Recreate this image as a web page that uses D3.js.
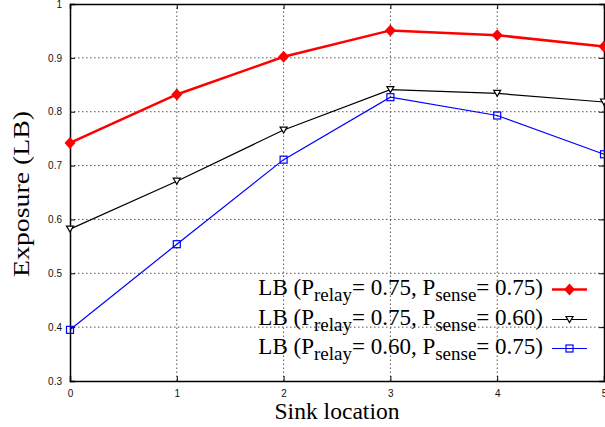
<!DOCTYPE html>
<html><head><meta charset="utf-8">
<script src="https://cdn.jsdelivr.net/npm/d3@7"></script>
<style>body{margin:0;background:#fff}svg{display:block}</style>
</head><body>
<script>
const sinkLocations = [0, 1, 2, 3, 4, 5];
const lbRelay75Sense75 = [0.742, 0.832, 0.902, 0.951, 0.942, 0.921];
const lbRelay75Sense60 = [0.582, 0.671, 0.766, 0.841, 0.834, 0.818];
const lbRelay60Sense75 = [0.395, 0.554, 0.711, 0.827, 0.793, 0.721];
const yTicks = [0.3, 0.4, 0.5, 0.6, 0.7, 0.8, 0.9, 1];
const xTicks = [0, 1, 2, 3, 4, 5];
const seriesLabels = [
  {relay: "0.75", sense: "0.75"},
  {relay: "0.75", sense: "0.60"},
  {relay: "0.60", sense: "0.75"}
];

const W = 605, H = 427;
const m = {left: 70, right: 1, top: 4, bottom: 46};
const svg = d3.select("body").append("svg").attr("width", W).attr("height", H);
const x = d3.scaleLinear().domain([0, 5]).range([m.left, W - m.right]);
const y = d3.scaleLinear().domain([0.3, 1]).range([H - m.bottom, m.top]);

// grid
const grid = svg.append("g");
grid.selectAll("line.gx").data(xTicks.slice(1, -1)).join("line")
  .attr("x1", d => x(d)).attr("x2", d => x(d)).attr("y1", y(0.3)).attr("y2", y(1))
  .attr("stroke", "#555").attr("stroke-width", 1).attr("stroke-dasharray", "1.5,2.5");
grid.selectAll("line.gy").data(yTicks.slice(1, -1)).join("line")
  .attr("x1", x(0)).attr("x2", x(5)).attr("y1", d => y(d)).attr("y2", d => y(d))
  .attr("stroke", "#555").attr("stroke-width", 1).attr("stroke-dasharray", "1.5,2.5");

// axes
const tickFont = "Liberation Sans, Arial, sans-serif";
const ax = svg.append("g").attr("transform", `translate(0,${y(0.3)})`)
  .call(d3.axisBottom(x).tickValues(xTicks).tickFormat(d3.format("d")).tickSize(-5).tickPadding(9));
const axT = svg.append("g").attr("transform", `translate(0,${y(1)})`)
  .call(d3.axisTop(x).tickValues(xTicks).tickFormat("").tickSize(-5));
const ay = svg.append("g").attr("transform", `translate(${x(0)},0)`)
  .call(d3.axisLeft(y).tickValues(yTicks).tickFormat(d => String(d)).tickSize(-5).tickPadding(8));
const ayR = svg.append("g").attr("transform", `translate(${x(5)},0)`)
  .call(d3.axisRight(y).tickValues(yTicks).tickFormat("").tickSize(-5));
[ax, axT, ay, ayR].forEach(g => {
  g.select(".domain").attr("stroke", "#000").attr("stroke-width", 1.5);
  g.selectAll(".tick line").attr("stroke", "#000");
  g.selectAll(".tick text").attr("font-family", tickFont).attr("font-size", 10).attr("fill", "#111");
});

// lines
const line = d3.line().x((d, i) => x(sinkLocations[i])).y(d => y(d));
const series = [
  {data: lbRelay75Sense75, color: "#ff0000", width: 2.5, marker: "diamond"},
  {data: lbRelay75Sense60, color: "#000000", width: 1.2, marker: "tri"},
  {data: lbRelay60Sense75, color: "#0000ff", width: 1.2, marker: "square"}
];
function drawMarker(g, s, cx, cy) {
  if (s.marker === "diamond") {
    g.append("path").attr("d", `M${cx},${cy-6}L${cx+5.5},${cy}L${cx},${cy+6}L${cx-5.5},${cy}Z`).attr("fill", s.color);
  } else if (s.marker === "tri") {
    g.append("path").attr("d", `M${cx-3.5},${cy-3}L${cx+3.5},${cy-3}L${cx},${cy+3}Z`)
      .attr("fill", "#fff").attr("stroke", s.color).attr("stroke-width", 1.2);
  } else {
    g.append("rect").attr("x", cx-3.5).attr("y", cy-3.5).attr("width", 7).attr("height", 7)
      .attr("fill", "none").attr("stroke", s.color).attr("stroke-width", 1.2);
  }
}
series.forEach(s => {
  svg.append("path").datum(s.data).attr("d", line).attr("fill", "none")
    .attr("stroke", s.color).attr("stroke-width", s.width);
  const g = svg.append("g");
  s.data.forEach((d, i) => drawMarker(g, s, x(sinkLocations[i]), y(d)));
});

// legend
const serif = "Liberation Serif, Times New Roman, serif";
const legRows = [295, 325, 354];
seriesLabels.forEach((l, i) => {
  const t = svg.append("text").attr("x", 543).attr("y", legRows[i]).attr("text-anchor", "end")
    .attr("font-family", serif).attr("font-size", 23).attr("fill", "#000");
  t.append("tspan").text("LB (P");
  t.append("tspan").attr("font-size", 19).attr("dy", 6).text("relay");
  t.append("tspan").attr("dy", -6).text("= " + l.relay + ", P");
  t.append("tspan").attr("font-size", 19).attr("dy", 6).text("sense");
  t.append("tspan").attr("dy", -6).text("= " + l.sense + ")");
  const s = series[i];
  const ly = legRows[i] - 5.5;
  svg.append("line").attr("x1", 552).attr("x2", 587).attr("y1", ly).attr("y2", ly)
    .attr("stroke", s.color).attr("stroke-width", s.width);
  drawMarker(svg.append("g"), s, 569.5, ly);
});

// titles
svg.append("text").attr("x", (x(0) + x(5)) / 2).attr("y", 419).attr("text-anchor", "middle")
  .attr("font-family", serif).attr("font-size", 23)
  .attr("textLength", 125).attr("lengthAdjust", "spacingAndGlyphs").text("Sink location");
svg.append("text").attr("transform", `translate(28.5,194) rotate(-90)`).attr("text-anchor", "middle")
  .attr("font-family", serif).attr("font-size", 23)
  .attr("textLength", 166).attr("lengthAdjust", "spacingAndGlyphs").text("Exposure (LB)");
</script>
</body></html>
